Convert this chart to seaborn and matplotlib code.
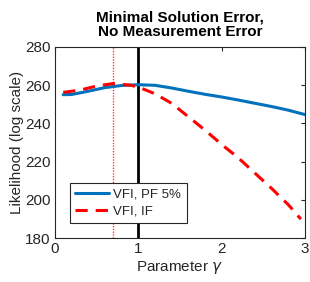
import numpy as np
import pandas as pd
import matplotlib
matplotlib.use("Agg")
import matplotlib.pyplot as plt
import seaborn as sns

gamma_pf = [0.1, 0.2, 0.4, 0.6, 0.8, 1.0, 1.2, 1.4, 1.6, 1.8, 2.0, 2.2, 2.4, 2.6, 2.8, 3.0]
lik_pf = [255.0, 255.1, 256.8, 258.7, 259.8, 260.2, 259.9, 258.5, 256.8, 255.2, 253.8, 252.2, 250.5, 248.8, 246.9, 244.6]
gamma_if = [0.1, 0.3, 0.5, 0.7, 0.9, 1.0, 1.2, 1.4, 1.6, 1.8, 2.0, 2.2, 2.4, 2.6, 2.8, 2.95]
lik_if = [256.2, 257.4, 259.5, 260.8, 260.0, 259.0, 255.5, 250.5, 243.5, 236.5, 229.0, 222.0, 214.0, 206.0, 197.5, 190.0]
true_gamma = 1.0
max_if_gamma = 0.70
series_names = ["VFI, PF 5%", "VFI, IF"]
title = "Minimal Solution Error,\nNo Measurement Error"
xlabel = "Parameter $\\gamma$"
ylabel = "Likelihood (log scale)"
xticks = [0, 1, 2, 3]
yticks = [180, 200, 220, 240, 260, 280]

sns.set_style("white")
plt.rcParams['font.family'] = ['Liberation Sans', 'DejaVu Sans']
plt.rcParams['mathtext.fontset'] = 'dejavusans'

df = pd.concat([
    pd.DataFrame({"gamma": gamma_pf, "lik": lik_pf, "series": series_names[0]}),
    pd.DataFrame({"gamma": gamma_if, "lik": lik_if, "series": series_names[1]}),
])

fig = plt.figure(figsize=(3.1, 2.82), dpi=100)
ax = fig.add_axes([0.177, 0.155, 0.807, 0.679])

ax.axvline(max_if_gamma, color="#ff4040", lw=1.0, ls=(0, (1, 1)), zorder=1)
ax.axvline(true_gamma, color="black", lw=2.0, zorder=2)

sns.lineplot(data=df, x="gamma", y="lik", hue="series", style="series",
             palette={series_names[0]: "#0072BD", series_names[1]: "#ff0000"},
             dashes={series_names[0]: "", series_names[1]: (4, 2.6)},
             linewidth=2.2, ax=ax, zorder=3)

ax.set_xlim(0, 3)
ax.set_ylim(180, 280)
ax.set_xticks(xticks)
ax.set_yticks(yticks)
ax.tick_params(direction="in", length=3, width=0.8, labelsize=11, colors="#262626",
               top=True, right=True, pad=3)
for s in ax.spines.values():
    s.set_color("#262626")
    s.set_linewidth(0.8)
ax.set_xlabel(xlabel, fontsize=11, color="#262626", labelpad=2)
ax.set_ylabel(ylabel, fontsize=11, color="#262626", labelpad=1)
ax.set_title(title, fontsize=11, fontweight="bold", color="black", pad=8, linespacing=1.05)

leg = ax.legend(loc="lower left", bbox_to_anchor=(0.06, 0.08), fontsize=9.5,
                frameon=True, fancybox=False, edgecolor="#262626", framealpha=1,
                handlelength=2.6, handletextpad=0.3, borderpad=0.4, labelspacing=0.4,
                borderaxespad=0)
leg.get_frame().set_linewidth(0.8)

fig.savefig("out.png", dpi=100)
